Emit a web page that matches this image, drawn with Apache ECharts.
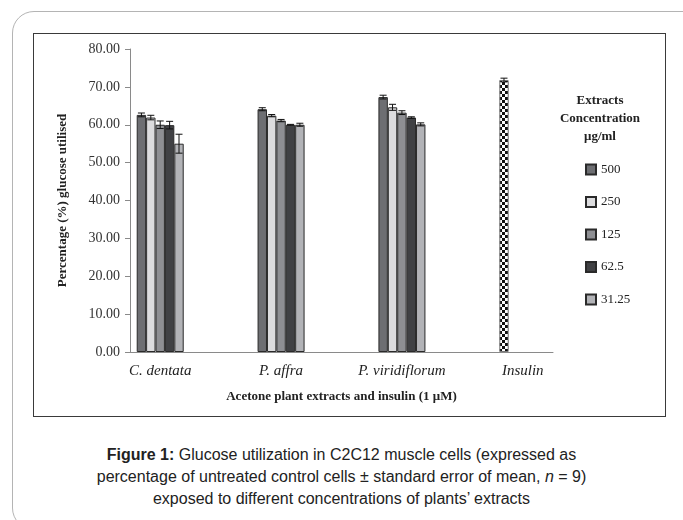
<!DOCTYPE html>
<html>
<head>
<meta charset="utf-8">
<script src="https://cdn.jsdelivr.net/npm/echarts@6/dist/echarts.min.js"></script>
<style>
	body { margin: 0; background: #fff; width: 683px; height: 520px; overflow: hidden; position: relative; }
	#card { position: absolute; left: 12px; top: 11px; width: 700px; height: 517px; border: 1.5px solid #b4b4b4; border-radius: 22px; }
	#tu { position: absolute; left: 33px; top: 33px; width: 631px; height: 382px; border: 1px solid #3a3a3a; }
	#caption { position: absolute; left: 0; top: 444px; width: 683px; text-align: center; font-family: 'Liberation Sans', Arial, sans-serif; font-size: 16px; line-height: 22px; color: #222; }
</style>
</head>
<body>
<div id="card"></div>
<div id="tu"></div>
<div id="caption"><b>Figure 1:</b> Glucose utilization in C2C12 muscle cells (expressed as<br>percentage of untreated control cells &plusmn; standard error of mean, <i>n</i> = 9)<br>exposed to different concentrations of plants&rsquo; extracts</div>
<script>
var categories = ['C. dentata', '', 'P. affra', '', 'P. viridiflorum', '', 'Insulin'];
var extractIdx = [0, 2, 4];
var concNames = ['500', '250', '125', '62.5', '31.25'];
var concColors = ['#6d6e72', '#dcdcde', '#8e8f93', '#404144', '#b2b3b7'];

// means and standard errors per extract (C. dentata, P. affra, P. viridiflorum)
var mean500 = [62.6, 64.1, 67.3];
var err500 = [0.5, 0.4, 0.5];
var mean250 = [61.9, 62.4, 64.6];
var err250 = [0.6, 0.3, 0.8];
var mean125 = [60.0, 61.1, 63.2];
var err125 = [1.0, 0.3, 0.5];
var mean62 = [59.9, 60.0, 61.9];
var err62 = [1.0, 0.1, 0.2];
var mean31 = [55.0, 60.0, 60.1];
var err31 = [2.5, 0.4, 0.4];
var insulinIdx = 6;
var insulinMean = 71.8;
var insulinErr = 0.5;

var yTicks = [0, 10, 20, 30, 40, 50, 60, 70, 80];

var serif = "'Liberation Serif', 'DejaVu Serif', serif";
var BW = 9.4;

function spread(arr) {
	var out = [];
	for (var i = 0; i < categories.length; i++) out.push('-');
	for (var j = 0; j < extractIdx.length; j++) out[extractIdx[j]] = arr[j];
	return out;
}

function checker() {
	var c = document.createElement('canvas');
	c.width = 6;
	c.height = 6;
	var ctx = c.getContext('2d');
	ctx.fillStyle = '#ffffff';
	ctx.fillRect(0, 0, 6, 6);
	ctx.fillStyle = '#111111';
	ctx.fillRect(0, 0, 3, 3);
	ctx.fillRect(3, 3, 3, 3);
	return c;
}

var allMeans = [mean500, mean250, mean125, mean62, mean31];
var allErrs = [err500, err250, err125, err62, err31];

// error bar points: [category index, mean, error, slot]
var errData = [];
for (var s = 0; s < allMeans.length; s++) {
	for (var k = 0; k < extractIdx.length; k++) {
		errData.push([extractIdx[k], allMeans[s][k], allErrs[s][k], s]);
	}
}
errData.push([insulinIdx, insulinMean, insulinErr, 0]);

var series = [];
for (var i = 0; i < concNames.length; i++) {
	series.push({
		name: concNames[i],
		type: 'bar',
		stack: 'g' + i,
		barWidth: BW,
		barGap: '0%',
		data: spread(allMeans[i]),
		itemStyle: { color: concColors[i], borderColor: '#2a2a2a', borderWidth: 1 }
	});
}
var insulinData = [];
for (var i = 0; i < categories.length; i++) insulinData.push(i == insulinIdx ? insulinMean : '-');
series.push({
	name: 'Insulin',
	type: 'bar',
	stack: 'g0',
	barWidth: BW,
	data: insulinData,
	itemStyle: { color: { image: checker(), repeat: 'repeat' }, borderColor: '#777', borderWidth: 1 }
});
series.push({
	type: 'custom',
	z: 10,
	silent: true,
	encode: { x: 0, y: 1 },
	data: errData,
	renderItem: function(params, api) {
		var cat = api.value(0), m = api.value(1), e = api.value(2), slot = api.value(3);
		var x = api.coord([cat, m])[0] + (slot - 2) * BW;
		var yTop = api.coord([cat, m + e])[1];
		var yBot = api.coord([cat, m - e])[1];
		var st = { stroke: '#111', lineWidth: 1 };
		return {
			type: 'group',
			children: [
				{ type: 'line', shape: { x1: x, y1: yTop, x2: x, y2: yBot }, style: st },
				{ type: 'line', shape: { x1: x - 3.5, y1: yTop, x2: x + 3.5, y2: yTop }, style: st },
				{ type: 'line', shape: { x1: x - 3.5, y1: yBot, x2: x + 3.5, y2: yBot }, style: st }
			]
		};
	}
});

var chart = echarts.init(document.getElementById('tu'));
var option = {
	animation: false,
	backgroundColor: '#fff',
	grid: { left: 96, top: 15, width: 423, bottom: 64 },
	graphic: [{
		type: 'text',
		x: 566,
		y: 58,
		style: {
			text: 'Extracts\nConcentration\nμg/ml',
			textAlign: 'center',
			font: 'bold 13px ' + serif,
			lineHeight: 18,
			fill: '#222'
		}
	}],
	legend: {
		data: concNames,
		orient: 'vertical',
		left: 546,
		top: 124,
		itemWidth: 10,
		itemHeight: 10,
		itemGap: 19.5,
		icon: 'rect',
		textStyle: { fontFamily: serif, fontSize: 13, color: '#222' }
	},
	xAxis: {
		type: 'category',
		data: categories,
		name: 'Acetone plant extracts and insulin (1 μM)',
		nameLocation: 'middle',
		nameGap: 38,
		nameTextStyle: { fontFamily: serif, fontSize: 13, fontWeight: 'bold', color: '#222' },
		axisLine: { lineStyle: { color: '#8a8a8a' } },
		axisTick: { interval: 0, length: 5, lineStyle: { color: '#8a8a8a' } },
		axisLabel: { interval: 0, margin: 12, fontFamily: serif, fontSize: 15, fontStyle: 'italic', color: '#222' }
	},
	yAxis: {
		type: 'value',
		min: yTicks[0],
		max: yTicks[yTicks.length - 1],
		interval: yTicks[1] - yTicks[0],
		name: 'Percentage (%) glucose utilised',
		nameLocation: 'middle',
		nameRotate: 90,
		nameGap: 61,
		nameTextStyle: { fontFamily: serif, fontSize: 13, fontWeight: 'bold', color: '#222' },
		axisLine: { show: true, lineStyle: { color: '#8a8a8a' } },
		axisTick: { show: true, length: 5, lineStyle: { color: '#8a8a8a' } },
		splitLine: { show: false },
		axisLabel: { margin: 10, fontFamily: serif, fontSize: 14, color: '#333', formatter: function(v) { return v.toFixed(2); } }
	},
	series: series
};
chart.setOption(option);
</script>
</body>
</html>
